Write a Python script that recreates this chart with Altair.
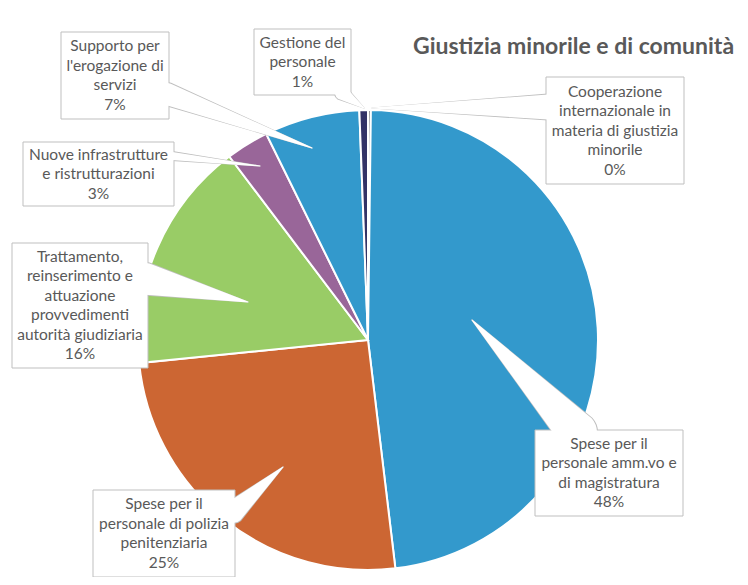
import altair as alt
import pandas as pd

# ---------------- data ----------------
keys = ["coop", "amm", "polizia", "tratt", "nuove", "supporto", "gestione"]
names = [
    ["Cooperazione", "internazionale in", "materia di giustizia", "minorile"],
    ["Spese per il", "personale amm.vo e", "di magistratura"],
    ["Spese per il", "personale di polizia", "penitenziaria"],
    ["Trattamento,", "reinserimento e", "attuazione", "provvedimenti", "autorità giudiziaria"],
    ["Nuove infrastrutture", "e ristrutturazioni"],
    ["Supporto per", "l'erogazione di", "servizi"],
    ["Gestione del", "personale"],
]
values = [0.2, 47.9, 25.3, 16.3, 3.0, 6.7, 0.6]
colors = ["#7F7F7F", "#3399CC", "#CC6633", "#99CC66", "#996699", "#3399CC", "#333366"]
TITLE = "Giustizia minorile e di comunità"

# ---------------- layout (page pixel units) ----------------
W, H = 732, 569
CX, CY, R = 368, 340, 230
LH = 19.5
# label box: x0, y0, x1, y1 ; pointer base (bx, by, width) ; pointer tip (tx, ty)
boxes = {
    "coop":     (546, 77, 684, 184),
    "amm":      (535, 430, 683, 516),
    "polizia":  (93, 490, 235, 577),
    "tratt":    (12, 243, 148, 368),
    "nuove":    (23, 142, 174, 206),
    "supporto": (61, 32, 169, 119),
    "gestione": (254, 29, 351, 95),
}
pointers = {
    "coop":     (548, 107, 25, 372, 108),
    "amm":      (577, 432, 40, 472, 320),
    "polizia":  (233, 512, 22, 283, 467),
    "tratt":    (146, 279, 32, 248, 302),
    "nuove":    (172, 156, 8, 260, 166),
    "supporto": (167, 94, 22, 312, 148),
    "gestione": (342, 93, 14, 364, 108),
}

pie_df = pd.DataFrame({
    "key": keys,
    "value": values,
    "idx": list(range(len(keys))),
})

lab_rows = []
for k, n, v in zip(keys, names, values):
    x0, y0, x1, y1 = boxes[k]
    lines = n + [f"{round(v):d}%"]
    lab_rows.append({
        "key": k, "x0": x0, "y0": y0, "x1": x1, "y1": y1,
        "xm": (x0 + x1) / 2,
        "ym": (y0 + y1) / 2 - (len(lines) - 1) * LH / 2,
        "lines": lines,
    })
lab_df = pd.DataFrame(lab_rows)

ptr_rows = []
for k in keys:
    bx, by, bw, tx, ty = pointers[k]
    ptr_rows.append({"key": k, "px": bx, "py": by, "w": bw, "wg": bw + 2, "o": 0})
    ptr_rows.append({"key": k, "px": tx, "py": ty, "w": 0, "wg": 1.2, "o": 1})
ptr_df = pd.DataFrame(ptr_rows)

xs = alt.Scale(domain=[8, 8 + W])
ys = alt.Scale(domain=[8, 8 + H], reverse=True)

pie = alt.Chart(pie_df).mark_arc(radius=R, stroke="white", strokeWidth=2).encode(
    theta=alt.Theta("value:Q", stack=True),
    color=alt.Color("key:N", scale=alt.Scale(domain=keys, range=colors), legend=None),
    order=alt.Order("idx:Q"),
    x=alt.value(CX - 8),
    y=alt.value(CY - 8),
)

ptr_grey = alt.Chart(ptr_df).mark_trail(color="#BFBFBF").encode(
    x=alt.X("px:Q", scale=xs, axis=None),
    y=alt.Y("py:Q", scale=ys, axis=None),
    size=alt.Size("wg:Q", scale=None, legend=None),
    detail="key:N",
    order="o:Q",
)

ptr_white = alt.Chart(ptr_df).mark_trail(color="white").encode(
    x=alt.X("px:Q", scale=xs, axis=None),
    y=alt.Y("py:Q", scale=ys, axis=None),
    size=alt.Size("w:Q", scale=None, legend=None),
    detail="key:N",
    order="o:Q",
)

box = alt.Chart(lab_df).mark_rect(fill="white", stroke="#BFBFBF", strokeWidth=1).encode(
    x=alt.X("x0:Q", scale=xs, axis=None),
    x2="x1:Q",
    y=alt.Y("y0:Q", scale=ys, axis=None),
    y2="y1:Q",
)

txt = alt.Chart(lab_df).mark_text(
    font="Lato", fontSize=15.5, color="#595959", lineHeight=LH,
    align="center", baseline="middle",
).encode(
    x=alt.X("xm:Q", scale=xs, axis=None),
    y=alt.Y("ym:Q", scale=ys, axis=None),
    text="lines",
)

title = alt.Chart(pd.DataFrame({"t": [TITLE], "tx": [413], "ty": [47]})).mark_text(
    font="Lato", fontSize=23, fontWeight="bold", color="#595959",
    align="left", baseline="middle",
).encode(
    x=alt.X("tx:Q", scale=xs, axis=None),
    y=alt.Y("ty:Q", scale=ys, axis=None),
    text="t:N",
)

chart = alt.layer(pie, ptr_grey, box, ptr_white, txt, title).properties(
    width=W, height=H, autosize="none", padding=0,
).configure_view(stroke=None)

chart.save("out.html", embed_options={"renderer": "svg", "actions": False})
